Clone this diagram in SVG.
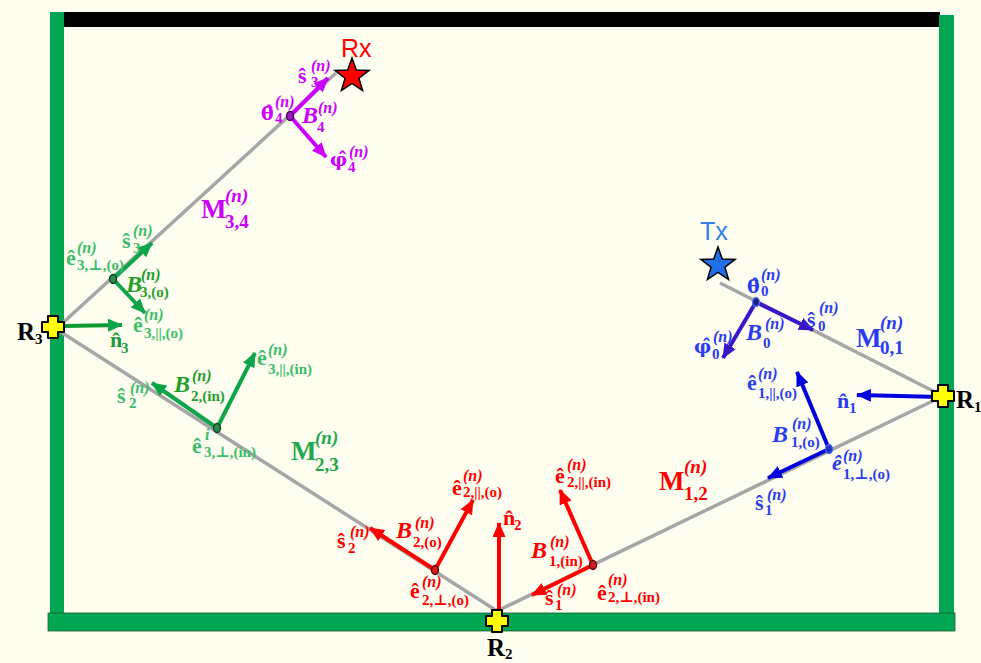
<svg xmlns="http://www.w3.org/2000/svg" width="981" height="663" viewBox="0 0 981 663">
<style>
.t{font-family:"Liberation Serif","DejaVu Serif",serif;font-weight:bold;font-size:22px}
.sp{font-size:16px;font-style:italic}
.sb{font-size:15px}
.bi{font-style:italic;font-size:24px}
.gk{font-family:"DejaVu Serif",serif;font-size:19px}
.M{font-size:27px}
.Ms{font-size:19px}
.Mi{font-size:19px;font-style:italic}
.R{font-family:"Liberation Serif","DejaVu Serif",serif;font-weight:bold;font-size:25px;fill:#000}
.Rs{font-size:15px}
.pu{fill:#CC00FF}.gl{fill:#3BBE68}.gd{fill:#22A02A}.gn{fill:#1E9A3A}.gm{fill:#22A84E}
.rd{fill:#FF0000}.bl{fill:#2B3CF0}
.ar{stroke-width:4;fill:none}
.path{stroke:#A6A6A6;stroke-width:3.5;fill:none;stroke-linejoin:round}
.lab{font-family:"Liberation Sans","Arial",sans-serif;font-size:25px}
</style>
<defs>
<marker id="hp" markerUnits="userSpaceOnUse" markerWidth="15" markerHeight="13" refX="14" refY="6.5" orient="auto"><path d="M0,0 L15,6.5 L0,13 z" fill="#CC00FF"/></marker>
<marker id="hg" markerUnits="userSpaceOnUse" markerWidth="15" markerHeight="13" refX="14" refY="6.5" orient="auto"><path d="M0,0 L15,6.5 L0,13 z" fill="#0EA54A"/></marker>
<marker id="hr" markerUnits="userSpaceOnUse" markerWidth="15" markerHeight="13" refX="14" refY="6.5" orient="auto"><path d="M0,0 L15,6.5 L0,13 z" fill="#FF0000"/></marker>
<marker id="hb" markerUnits="userSpaceOnUse" markerWidth="15" markerHeight="13" refX="14" refY="6.5" orient="auto"><path d="M0,0 L15,6.5 L0,13 z" fill="#0000DD"/></marker>
<marker id="hi" markerUnits="userSpaceOnUse" markerWidth="15" markerHeight="13" refX="14" refY="6.5" orient="auto"><path d="M0,0 L15,6.5 L0,13 z" fill="#3A16C8"/></marker>
<path id="cross" d="M-5,-11 h10 v6 h6 v10 h-6 v6 h-10 v-6 h-6 v-10 h6 z" fill="#FFFF00" stroke="#000" stroke-width="2" stroke-linejoin="round"/>
<polygon id="star" points="0,-18 4.29,-5.91 17.12,-5.56 6.94,2.26 10.58,14.56 0,7.3 -10.58,14.56 -6.94,2.26 -17.12,-5.56 -4.29,-5.91" stroke="#000" stroke-width="1.5" stroke-linejoin="miter"/>
</defs>
<rect width="981" height="663" fill="#FDFDF0"/>
<g id="frame">
<rect x="64" y="12" width="876" height="15" fill="#000"/>
<rect x="50" y="12" width="14" height="619" fill="#00A651"/>
<rect x="939" y="15" width="15" height="600" fill="#00A651"/>
<rect x="48" y="613" width="907" height="18" fill="#00A651" stroke="#1b5e33" stroke-width="0.8"/>
</g>
<g id="connectors">
<polyline class="path" points="720,283 943,396 497,611 53,327"/>
<line class="path" x1="55" y1="330" x2="336" y2="73"/>
<line class="ar" stroke="#CC00FF" x1="290" y1="116" x2="328" y2="78" marker-end="url(#hp)"/>
<line class="ar" stroke="#CC00FF" x1="290" y1="116" x2="326" y2="157" marker-end="url(#hp)"/>
<line class="ar" stroke="#0EA54A" x1="113" y1="279" x2="152" y2="243" marker-end="url(#hg)"/>
<line class="ar" stroke="#0EA54A" x1="113" y1="279" x2="145" y2="313" marker-end="url(#hg)"/>
<line class="ar" stroke="#0E9A30" x1="64" y1="326" x2="122" y2="325" marker-end="url(#hg)"/>
<line class="ar" stroke="#0EA54A" x1="217" y1="428" x2="152" y2="383" marker-end="url(#hg)"/>
<line class="ar" stroke="#0EA54A" x1="217" y1="428" x2="255" y2="353" marker-end="url(#hg)"/>
<line class="ar" stroke="#FF0000" x1="435" y1="570" x2="370" y2="528" marker-end="url(#hr)"/>
<line class="ar" stroke="#FF0000" x1="435" y1="570" x2="473" y2="500" marker-end="url(#hr)"/>
<line class="ar" stroke="#FF0000" x1="499" y1="620" x2="499" y2="523" marker-end="url(#hr)"/>
<line class="ar" stroke="#FF0000" x1="593" y1="565" x2="532" y2="595" marker-end="url(#hr)"/>
<line class="ar" stroke="#FF0000" x1="593" y1="565" x2="560" y2="490" marker-end="url(#hr)"/>
<line class="ar" stroke="#0000DD" x1="829" y1="449" x2="797" y2="372" marker-end="url(#hb)"/>
<line class="ar" stroke="#0000DD" x1="829" y1="449" x2="768" y2="478" marker-end="url(#hb)"/>
<line class="ar" stroke="#0000DD" x1="941" y1="397" x2="857" y2="395" marker-end="url(#hb)"/>
<line class="ar" stroke="#3A16C8" x1="756" y1="302" x2="813" y2="330" marker-end="url(#hi)"/>
<line class="ar" stroke="#3A16C8" x1="756" y1="302" x2="723" y2="358" marker-end="url(#hi)"/>
</g>
<g id="dots" stroke-width="1.3">
<ellipse cx="290" cy="116" rx="3.5" ry="4.5" fill="#9A20C0" stroke="#3a0050"/>
<ellipse cx="113" cy="279" rx="3.5" ry="4.5" fill="#2E8B4A" stroke="#0b3d1d"/>
<ellipse cx="217" cy="428" rx="3.5" ry="4.5" fill="#2E8B4A" stroke="#0b3d1d"/>
<ellipse cx="435" cy="570" rx="3.5" ry="4.5" fill="#D02020" stroke="#600000"/>
<ellipse cx="593" cy="565" rx="3.5" ry="4.5" fill="#D02020" stroke="#600000"/>
<ellipse cx="829" cy="449" rx="3.5" ry="4.5" fill="#2030C0" stroke="#4070FF"/>
<ellipse cx="756" cy="302" rx="3.5" ry="4.5" fill="#202080" stroke="#5080FF"/>
</g>
<g id="R3"><use href="#cross" x="53" y="327"/><text class="R" x="17" y="340">R<tspan class="Rs" dy="4">3</tspan></text></g>
<g id="R2"><use href="#cross" x="497" y="621"/><text class="R" x="487" y="656">R<tspan class="Rs" dy="3">2</tspan></text></g>
<g id="R1"><use href="#cross" x="943" y="396"/><text class="R" x="956" y="408">R<tspan class="Rs" dy="4">1</tspan></text></g>
<g id="Rx"><use href="#star" x="352" y="76" fill="#FF0000"/><text class="lab" x="341" y="57" fill="#FF0000">Rx</text></g>
<g id="Tx"><use href="#star" x="718" y="265" fill="#1F6FE8"/><text class="lab" x="700" y="240" fill="#2F80ED">Tx</text></g>
<g id="labels-purple" class="t pu">
<text><tspan x="298" y="83">ŝ</tspan><tspan class="sb" x="311" y="87">3</tspan><tspan class="sp" x="311" y="71">(n)</tspan></text>
<text><tspan class="gk" x="261" y="120">θ̂</tspan><tspan class="sb" x="275" y="123">4</tspan><tspan class="sp" x="275" y="107">(n)</tspan></text>
<text><tspan class="bi" x="302" y="123">B</tspan><tspan class="sb" x="317" y="132">4</tspan><tspan class="sp" x="318" y="113">(n)</tspan></text>
<text><tspan class="gk" x="330" y="166">φ̂</tspan><tspan class="sb" x="348" y="172">4</tspan><tspan class="sp" x="349" y="157">(n)</tspan></text>
<text><tspan class="M" x="201" y="218">M</tspan><tspan class="Ms" x="225" y="228">3,4</tspan><tspan class="Mi" x="225" y="202">(n)</tspan></text>
</g>
<g id="labels-green" class="t gl">
<text><tspan x="122" y="248">ŝ</tspan><tspan class="sb" x="133" y="253">3</tspan><tspan class="sp" x="133" y="236">(n)</tspan></text>
<text><tspan x="66" y="265">ê</tspan><tspan class="sb" x="77" y="270">3,⊥,(o)</tspan><tspan class="sp" x="77" y="253">(n)</tspan></text>
<text class="gd"><tspan class="bi" x="126" y="292">B</tspan><tspan class="sb" x="140" y="297">3,(o)</tspan><tspan class="sp" x="141" y="280">(n)</tspan></text>
<text><tspan x="133" y="332">ê</tspan><tspan class="sb" x="144" y="338">3,||,(o)</tspan><tspan class="sp" x="144" y="320">(n)</tspan></text>
<text class="gn"><tspan x="110" y="347">n̂</tspan><tspan class="sb" x="121" y="353">3</tspan></text>
<text><tspan x="117" y="403">ŝ</tspan><tspan class="sb" x="129" y="408">2</tspan><tspan class="sp" x="130" y="393">(n)</tspan></text>
<text class="gd"><tspan class="bi" x="174" y="392">B</tspan><tspan class="sb" x="191" y="401">2,(in)</tspan><tspan class="sp" x="192" y="381">(n)</tspan></text>
<text><tspan x="257" y="365">ê</tspan><tspan class="sb" x="268" y="374">3,||,(in)</tspan><tspan class="sp" x="268" y="355">(n)</tspan></text>
<text><tspan x="192" y="453">ê</tspan><tspan class="sb" x="204" y="457">3,⊥,(in)</tspan><tspan class="sp" x="205" y="440">i</tspan></text>
<text class="gm"><tspan class="M" x="291" y="460">M</tspan><tspan class="Ms" x="315" y="471">2,3</tspan><tspan class="Mi" x="315" y="444">(n)</tspan></text>
</g>
<g id="labels-red" class="t rd">
<text><tspan x="337" y="548">ŝ</tspan><tspan class="sb" x="348" y="553">2</tspan><tspan class="sp" x="350" y="537">(n)</tspan></text>
<text><tspan class="bi" x="396" y="538">B</tspan><tspan class="sb" x="413" y="547">2,(o)</tspan><tspan class="sp" x="415" y="528">(n)</tspan></text>
<text><tspan x="452" y="495">ê</tspan><tspan class="sb" x="463" y="497">2,||,(o)</tspan><tspan class="sp" x="463" y="481">(n)</tspan></text>
<text><tspan x="410" y="598">ê</tspan><tspan class="sb" x="422" y="605">2,⊥,(o)</tspan><tspan class="sp" x="422" y="587">(n)</tspan></text>
<text><tspan x="503" y="525">n̂</tspan><tspan class="sb" x="514" y="530">2</tspan></text>
<text><tspan x="555" y="483">ê</tspan><tspan class="sb" x="567" y="487">2,||,(in)</tspan><tspan class="sp" x="567" y="470">(n)</tspan></text>
<text><tspan class="bi" x="531" y="558">B</tspan><tspan class="sb" x="549" y="566">1,(in)</tspan><tspan class="sp" x="550" y="547">(n)</tspan></text>
<text><tspan x="545" y="605">ŝ</tspan><tspan class="sb" x="555" y="610">1</tspan><tspan class="sp" x="557" y="595">(n)</tspan></text>
<text><tspan x="597" y="600">ê</tspan><tspan class="sb" x="608" y="602">2,⊥,(in)</tspan><tspan class="sp" x="608" y="585">(n)</tspan></text>
<text><tspan class="M" x="659" y="490">M</tspan><tspan class="Ms" x="684" y="500">1,2</tspan><tspan class="Mi" x="684" y="473">(n)</tspan></text>
</g>
<g id="labels-blue" class="t bl">
<text><tspan x="747" y="390">ê</tspan><tspan class="sb" x="758" y="398">1,||,(o)</tspan><tspan class="sp" x="758" y="379">(n)</tspan></text>
<text><tspan x="837" y="408">n̂</tspan><tspan class="sb" x="849" y="413">1</tspan></text>
<text><tspan class="bi" x="772" y="442">B</tspan><tspan class="sb" x="791" y="447">1,(o)</tspan><tspan class="sp" x="792" y="429">(n)</tspan></text>
<text><tspan x="832" y="470" font-style="italic">ê</tspan><tspan class="sb" x="843" y="479">1,⊥,(o)</tspan><tspan class="sp" x="843" y="461">(n)</tspan></text>
<text><tspan x="755" y="510">ŝ</tspan><tspan class="sb" x="765" y="515">1</tspan><tspan class="sp" x="767" y="500">(n)</tspan></text>
<text><tspan class="gk" x="747" y="293">θ̂</tspan><tspan class="sb" x="761" y="296">0</tspan><tspan class="sp" x="761" y="280">(n)</tspan></text>
<text><tspan x="807" y="327">ŝ</tspan><tspan class="sb" x="818" y="331">0</tspan><tspan class="sp" x="819" y="313">(n)</tspan></text>
<text><tspan class="bi" x="746" y="340">B</tspan><tspan class="sb" x="763" y="348">0</tspan><tspan class="sp" x="765" y="329">(n)</tspan></text>
<text><tspan class="gk" x="694" y="353">φ̂</tspan><tspan class="sb" x="712" y="359">0</tspan><tspan class="sp" x="713" y="342">(n)</tspan></text>
<text><tspan class="M" x="856" y="347">M</tspan><tspan class="Ms" x="880" y="354">0,1</tspan><tspan class="Mi" x="880" y="329">(n)</tspan></text>
</g>
</svg>
